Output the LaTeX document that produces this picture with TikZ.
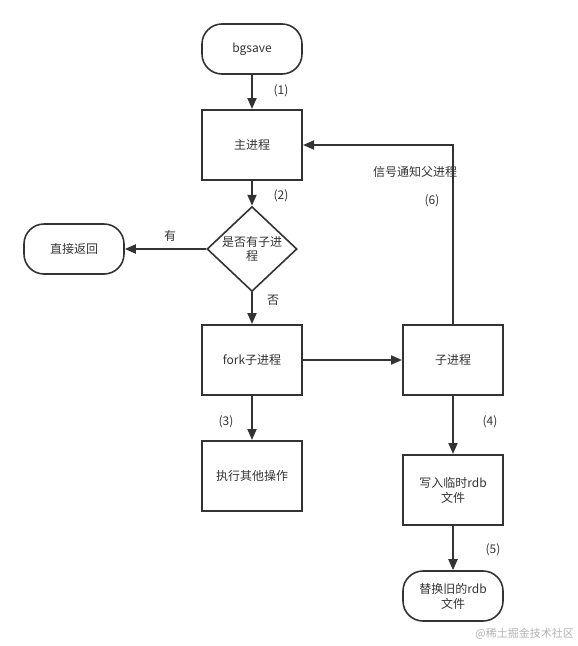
\documentclass[tikz,border=0pt]{standalone}
\usepackage{fontspec}
\setmainfont{Noto Sans CJK SC}
\usetikzlibrary{arrows.meta,shapes.geometric}
\definecolor{ln}{HTML}{333333}
\tikzset{
  box/.style={draw=ln,line width=2pt,minimum width=100pt,minimum height=70pt,inner sep=2pt,align=center,text=ln,font=\fontsize{12}{15}\selectfont},
  term/.style={draw=ln,line width=1.6pt,rounded corners=20pt,minimum width=100pt,minimum height=50pt,inner sep=2pt,align=center,text=ln,font=\fontsize{12}{15}\selectfont},
  dec/.style={draw=ln,line width=1.6pt,diamond,minimum width=90pt,minimum height=70pt,inner sep=0pt,align=center,text=ln,font=\fontsize{12}{15}\selectfont},
  conn/.style={draw=ln,line width=2pt,-{Triangle[length=11pt,width=9pt]}},
  lbl/.style={text=ln,font=\fontsize{12}{14}\selectfont,inner sep=0pt}
}
\begin{document}
\begin{tikzpicture}[x=1pt,y=-1pt]
\useasboundingbox (0,0) rectangle (578,646);
\node[term] (bg) at (252,49) {bgsave};
\node[box] (main) at (252,145) {主进程};
\node[dec] (q) at (252,249) {\shortstack{是否有子进\\程}};
\node[term] (ret) at (74,249) {直接返回};
\node[box] (fork) at (252,360) {fork子进程};
\node[box] (child) at (453,360) {子进程};
\node[box] (other) at (252,476) {执行其他操作};
\node[box] (write) at (453,490) {写入临时rdb\\文件};
\node[term] (repl) at (453,596) {替换旧的rdb\\文件};
\coordinate (c1) at (453,145);
\draw[conn] (bg) -- (main);
\draw[conn] (main) -- (q);
\draw[conn] (q) -- (ret);
\draw[conn] (q) -- (fork);
\draw[conn] (fork) -- (child);
\draw[conn] (fork) -- (other);
\draw[conn] (child) -- (write);
\draw[conn] (write) -- (repl);
\draw[conn] (child.north) -- (c1) -- (main.east);
\node[lbl] (l1) at (281,91) {(1)};
\node[lbl] (l2) at (281,196) {(2)};
\node[lbl] (ly) at (170,236) {有};
\node[lbl] (ln) at (273,300) {否};
\node[lbl] (l3) at (226,422) {(3)};
\node[lbl] (l4) at (490,422) {(4)};
\node[lbl] (l5) at (493,550) {(5)};
\node[lbl] (l6t) at (415,172) {信号通知父进程};
\node[lbl] (l6) at (432,201) {(6)};
\node[text=gray!60,font=\fontsize{11}{13}\selectfont,anchor=east,inner sep=0pt] (wm) at (574,634) {@稀土掘金技术社区};
\end{tikzpicture}
\end{document}
